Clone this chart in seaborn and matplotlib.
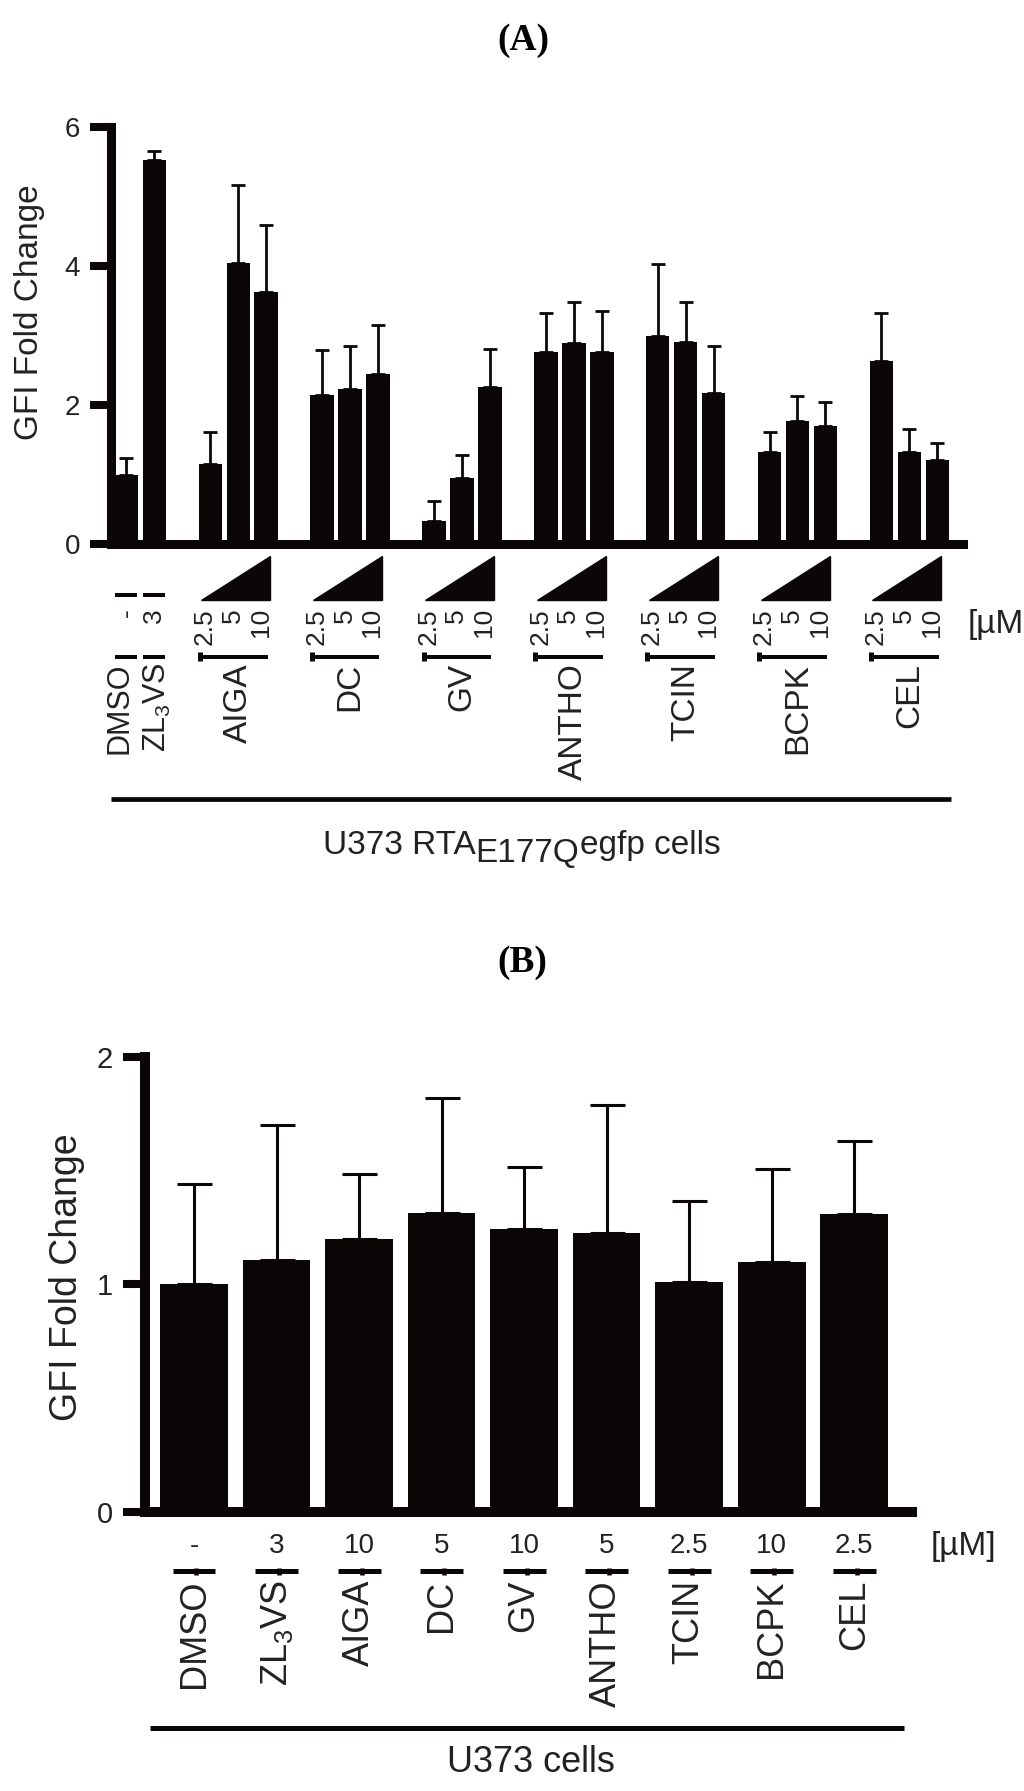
import pandas as pd
import seaborn as sns
import matplotlib.pyplot as plt
from matplotlib.patches import Polygon
from matplotlib.transforms import blended_transform_factory

# (A) U373 RTA-E177Q-egfp cells, three doses per compound
groups_a = ["DMSO", "ZL3VS", "AIGA", "DC", "GV", "ANTHO", "TCIN", "BCPK", "CEL"]
doses_a = [["-"], ["3"]] + [["2.5", "5", "10"]] * 7
fold_a = [[1.00], [5.52],
          [1.15, 4.04, 3.63],
          [2.15, 2.24, 2.45],
          [0.34, 0.96, 2.26],
          [2.77, 2.89, 2.77],
          [2.99, 2.91, 2.18],
          [1.33, 1.78, 1.70],
          [2.63, 1.33, 1.22]]
err_a = [[0.24], [0.13],
         [0.47, 1.12, 0.96],
         [0.64, 0.61, 0.71],
         [0.29, 0.32, 0.55],
         [0.56, 0.60, 0.58],
         [1.04, 0.58, 0.67],
         [0.29, 0.36, 0.35],
         [0.69, 0.33, 0.24]]

# (B) U373 cells, one dose per compound
groups_b = ["DMSO", "ZL3VS", "AIGA", "DC", "GV", "ANTHO", "TCIN", "BCPK", "CEL"]
doses_b = ["-", "3", "10", "5", "10", "5", "2.5", "10", "2.5"]
fold_b = [1.00, 1.105, 1.20, 1.314, 1.242, 1.224, 1.011, 1.10, 1.307]
err_b = [0.44, 0.595, 0.286, 0.503, 0.274, 0.566, 0.355, 0.405, 0.323]

names = {"ZL3VS": r"ZL$_\mathregular{3}$VS"}

sns.set_theme(style="white")
plt.rcParams["font.family"] = ["Liberation Sans", "DejaVu Sans"]

BAR = "#0b0707"
TXT = "#222222"
W, H = 1024, 1791


def fx(px):
    return px / W


def fy(px):
    return 1 - px / H


fig = plt.figure(figsize=(W / 100, H / 100), dpi=100)
axA = fig.add_axes([fx(110.5), fy(544.5), fx(963 - 110.5), (544.5 - 127) / H])
axB = fig.add_axes([fx(144.5), fy(1512), fx(912 - 144.5), (1512 - 1056.7) / H])

# ---- data frames ----
rows = []
order_a = []
for i, g in enumerate(groups_a):
    if i >= 2:
        order_a.append(f"gap{i}")
    for d, v, e in zip(doses_a[i], fold_a[i], err_a[i]):
        lab = f"{g} {d}"
        order_a.append(lab)
        rows.append({"label": lab, "group": g, "dose": d, "fold": v, "err": e})
df_a = pd.DataFrame(rows)
df_b = pd.DataFrame({"group": groups_b, "dose": doses_b, "fold": fold_b, "err": err_b})

sns.barplot(data=df_a, x="label", y="fold", order=order_a, color=BAR, saturation=1,
            width=0.84, errorbar=None, linewidth=0, ax=axA)
sns.barplot(data=df_b, x="group", y="fold", order=groups_b, color=BAR, saturation=1,
            width=0.82, errorbar=None, linewidth=0, ax=axB)

# upper error bars on top of the drawn bars
err_lookup_a = dict(zip(df_a["label"], df_a["err"]))
for bar in axA.containers[0]:
    xc = bar.get_x() + bar.get_width() / 2
    lab = order_a[int(round(xc))]
    axA.errorbar(xc, bar.get_height(), yerr=[[0], [err_lookup_a[lab]]], fmt="none",
                 ecolor=BAR, elinewidth=2, capsize=4.7, capthick=2, zorder=1)
err_lookup_b = dict(zip(df_b["group"], df_b["err"]))
for bar in axB.containers[0]:
    xc = bar.get_x() + bar.get_width() / 2
    lab = groups_b[int(round(xc))]
    axB.errorbar(xc, bar.get_height(), yerr=[[0], [err_lookup_b[lab]]], fmt="none",
                 ecolor=BAR, elinewidth=2.2, capsize=12.6, capthick=2.2, zorder=1)

# ---- axes styling ----
for ax, lw, ticks, lsize, tl in [(axA, 6.5, [0, 2, 4, 6], 20, 14.8),
                                  (axB, 7.2, [0, 1, 2], 21, 15.5)]:
    sns.despine(ax=ax)
    for s in ["left", "bottom"]:
        ax.spines[s].set_linewidth(lw)
        ax.spines[s].set_color(BAR)
    ax.set_xticks([])
    ax.set_yticks(ticks)
    ax.set_xlabel("")
    ax.set_ylabel("")
    ax.tick_params(axis="y", left=True, labelsize=lsize, length=tl, width=5.8,
                   pad=7.2, color=BAR, labelcolor=TXT)

fig.text(fx(30), fy(312), "GFI Fold Change", rotation=90, ha="center", va="center",
         fontsize=24, color=TXT)
fig.text(fx(67), fy(1277), "GFI Fold Change", rotation=90, ha="center", va="center",
         fontsize=27, color=TXT)

fig.text(fx(523), fy(41), "(A)", ha="center", va="center", fontsize=27,
         family="Liberation Serif", weight="bold", color="black")
fig.text(fx(522), fy(962), "(B)", ha="center", va="center", fontsize=27,
         family="Liberation Serif", weight="bold", color="black")

# ---- annotations under panel A ----
tA = blended_transform_factory(axA.transData, fig.transFigure)


def hline(ax, tr, x0, x1, ypx, lw):
    ax.plot([x0, x1], [fy(ypx), fy(ypx)], color=BAR, lw=lw, transform=tr,
            clip_on=False, solid_capstyle="butt")


def vline(ax, tr, x, y0px, y1px, lw):
    ax.plot([x, x], [fy(y0px), fy(y1px)], color=BAR, lw=lw, transform=tr,
            clip_on=False, solid_capstyle="butt")


name_shift = {"DMSO": -0.25, "ZL3VS": 0.12}
for i, g in enumerate(groups_a):
    pos = [order_a.index(f"{g} {d}") for d in doses_a[i]]
    label = names.get(g, g)
    if len(pos) == 1:
        c = pos[0]
        hline(axA, tA, c - 0.42, c + 0.38, 595, 2.9)
        hline(axA, tA, c - 0.42, c + 0.38, 657, 2.9)
        axA.text(c, fy(608), doses_a[i][0], rotation=90, ha="center", va="top",
                 fontsize=19, transform=tA, color=TXT)
        axA.text(c + name_shift[g], fy(662), label, rotation=90, ha="center",
                 va="top", fontsize=22, transform=tA, color=TXT)
    else:
        x0, x1 = pos[0] - 0.32, pos[-1] + 0.15
        axA.add_patch(Polygon([(x0, fy(600)), (x1, fy(600)), (x1, fy(556))],
                              closed=True, color=BAR, transform=tA, clip_on=False))
        for c, d in zip(pos, doses_a[i]):
            axA.text(c - 0.2, fy(608), d, rotation=90, ha="center", va="top",
                     fontsize=19, transform=tA, color=TXT)
        hline(axA, tA, pos[0] - 0.4, pos[-1] + 0.05, 657, 2.9)
        vline(axA, tA, pos[0] - 0.37, 652, 661, 3.6)
        axA.text(pos[1], fy(663), label, rotation=90, ha="center", va="top",
                 fontsize=24, transform=tA, color=TXT)

fig.text(fx(968), fy(624), "[µM", ha="left", va="center", fontsize=24, color=TXT)
hline(axA, tA, -0.55, 29.5, 799, 3.4)

# cell line label with a same-size lowered subscript
t1 = fig.text(fx(323), fy(854), "U373 RTA", ha="left", va="baseline", fontsize=24,
              color=TXT)
t2 = axA.annotate("E177Q", xy=(1, 0), xycoords=t1, xytext=(0, -8),
                  textcoords="offset pixels", ha="left", va="bottom",
                  fontsize=24, color=TXT, annotation_clip=False)
axA.annotate("egfp cells", xy=(1, 0), xycoords=t2, xytext=(0, 8),
             textcoords="offset pixels", ha="left", va="bottom",
             fontsize=24, color=TXT, annotation_clip=False)

# ---- annotations under panel B ----
tB = blended_transform_factory(axB.transData, fig.transFigure)
for i, g in enumerate(groups_b):
    c = groups_b.index(g)
    axB.text(c, fy(1546), doses_b[i], ha="center", va="center", fontsize=20,
             transform=tB, color=TXT)
    hline(axB, tB, c - 0.26, c + 0.26, 1571, 3.6)
    vline(axB, tB, c + 0.03, 1568, 1575, 3.3)
    axB.text(c, fy(1580), names.get(g, g), rotation=90, ha="center", va="top",
             fontsize=26, transform=tB, color=TXT)

fig.text(fx(931), fy(1546), "[µM]", ha="left", va="center", fontsize=24, color=TXT)
hline(axB, tB, -0.53, 8.6, 1727.5, 3.6)
fig.text(fx(531), fy(1772), "U373 cells", ha="center", va="baseline", fontsize=26,
         color=TXT)

axA.set_xlim(-0.57, 29.92)
axA.set_ylim(0, 6)
axB.set_xlim(-0.6, 8.7)
axB.set_ylim(0, 2)

fig.savefig("out.png", dpi=100, facecolor="white")
